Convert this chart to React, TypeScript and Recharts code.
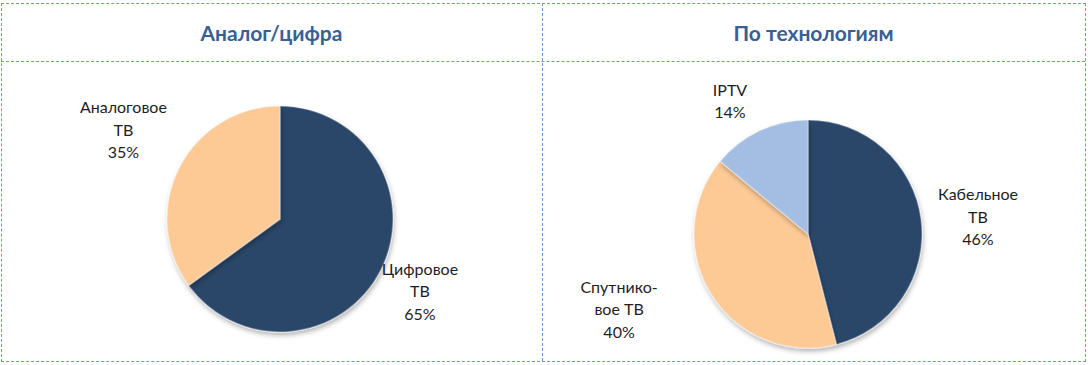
import React from "react";
import { PieChart, Pie, Cell } from "recharts";

const analogNames = ["Цифровое ТВ", "Аналоговое ТВ"];
const analogValues = [65, 35];
const analogLabels = [["Цифровое", "ТВ"], ["Аналоговое", "ТВ"]];

const techNames = ["Кабельное ТВ", "Спутниковое ТВ", "IPTV"];
const techValues = [46, 40, 14];
const techLabels = [["Кабельное", "ТВ"], ["Спутнико-", "вое ТВ"], ["IPTV"]];

const titles = ["Аналог/цифра", "По технологиям"];

const analogData = analogNames.map((name, i) => ({ name, value: analogValues[i], lines: analogLabels[i] }));
const techData = techNames.map((name, i) => ({ name, value: techValues[i], lines: techLabels[i] }));

const NAVY = "#2b4669";
const PEACH = "#fdca96";
const BLUE = "#a3bee2";
const analogColors = [NAVY, PEACH];
const techColors = [NAVY, PEACH, BLUE];

// label distance from centre (as multiple of radius) and slight angle shift, per slice
const analogLabelDist = [1.39, 1.6];
const analogLabelShift = [0, -3];
const techLabelDist = [1.5, 1.78, 1.36];
const techLabelShift = [-1, -11, 5];

const RAD = Math.PI / 180;
const FONT = "Lato, 'Noto Sans', sans-serif";

const makeLabel = (dist: number[], shift: number[]) => (props: any) => {
  const { cx, cy, midAngle, outerRadius, index, payload, value } = props;
  const a = (midAngle + shift[index]) * RAD;
  const r = outerRadius * dist[index];
  const x = cx + r * Math.cos(a);
  const y = cy - r * Math.sin(a);
  const lines: string[] = [...payload.lines, `${value}%`];
  const lh = 22.5;
  const y0 = y - ((lines.length - 1) * lh) / 2;
  return (
    <text
      x={x}
      y={y0}
      textAnchor="middle"
      dominantBaseline="central"
      fill="#1e1e1e"
      fontFamily={FONT}
      fontSize={16}
    >
      {lines.map((l, i) => (
        <tspan key={i} x={x} y={y0 + i * lh} dominantBaseline="central">
          {l}
        </tspan>
      ))}
    </text>
  );
};

const dash = "1px dashed #6a97dc";

export default function App() {
  return (
    <div
      style={{
        position: "absolute",
        left: 0,
        top: 0,
        width: 1088,
        height: 365,
        background: "#fff",
        overflow: "hidden",
      }}
    >
      {/* frame */}
      <div style={{ position: "absolute", left: 1, top: 3, width: 1083, height: 357, border: dash }} />
      <div style={{ position: "absolute", left: 542, top: 3, width: 0, height: 358, borderLeft: dash }} />
      <div style={{ position: "absolute", left: 1, top: 61, width: 1084, height: 0, borderTop: dash }} />
      {titles.map((t, i) => (
        <div
          key={t}
          style={{
            position: "absolute",
            left: i === 0 ? 1 : 542,
            width: i === 0 ? 541 : 543,
            top: 4,
            height: 57,
            display: "flex",
            alignItems: "center",
            justifyContent: "center",
            fontFamily: FONT,
            fontWeight: 700,
            fontSize: 21,
            color: "#376094",
          }}
        >
          {t}
        </div>
      ))}
      <div style={{ position: "absolute", left: 0, top: 0 }}>
        <PieChart width={1088} height={365} margin={{ top: 0, right: 0, bottom: 0, left: 0 }}>
          <defs>
            <filter id="shadow" x="-20%" y="-20%" width="140%" height="140%">
              <feDropShadow dx="1" dy="3" stdDeviation="2.5" floodColor="#000" floodOpacity="0.3" />
            </filter>
          </defs>
          <Pie
            data={analogData}
            dataKey="value"
            nameKey="name"
            cx={280}
            cy={219}
            outerRadius={113}
            startAngle={90}
            endAngle={-270}
            stroke="none"
            isAnimationActive={false}
            labelLine={false}
            label={makeLabel(analogLabelDist, analogLabelShift)}
            style={{ filter: "url(#shadow)" }}
          >
            {analogData.map((d, i) => (
              <Cell key={d.name} fill={analogColors[i]} stroke="rgba(255,255,255,0.3)" strokeWidth={1.5} />
            ))}
          </Pie>
          <Pie
            data={techData}
            dataKey="value"
            nameKey="name"
            cx={808}
            cy={234}
            outerRadius={114}
            startAngle={90}
            endAngle={-270}
            stroke="none"
            isAnimationActive={false}
            labelLine={false}
            label={makeLabel(techLabelDist, techLabelShift)}
            style={{ filter: "url(#shadow)" }}
          >
            {techData.map((d, i) => (
              <Cell key={d.name} fill={techColors[i]} stroke="rgba(255,255,255,0.3)" strokeWidth={1.5} />
            ))}
          </Pie>
        </PieChart>
      </div>
    </div>
  );
}
